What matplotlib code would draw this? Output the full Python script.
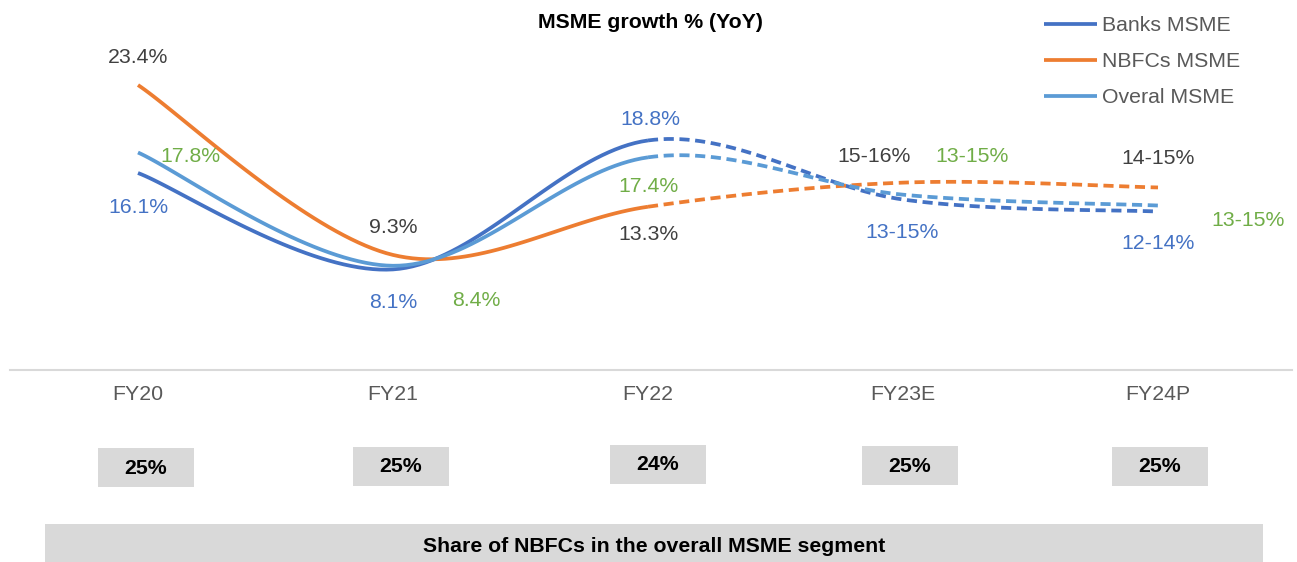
import numpy as np
import matplotlib
matplotlib.use("Agg")
import matplotlib.pyplot as plt
from matplotlib.patches import Rectangle

plt.rcParams["font.family"] = ["Liberation Sans", "DejaVu Sans"]

# data
categories = ["FY20", "FY21", "FY22", "FY23E", "FY24P"]
banks = [16.1, 8.1, 18.8, 13.9, 12.9]
nbfcs = [23.4, 9.3, 13.3, 15.3, 14.9]
overall = [17.8, 8.4, 17.4, 14.3, 13.4]
banks_labels = ["16.1%", "8.1%", "18.8%", "13-15%", "12-14%"]
nbfcs_labels = ["23.4%", "9.3%", "13.3%", "15-16%", "14-15%"]
overall_labels = ["17.8%", "8.4%", "17.4%", "13-15%", "13-15%"]
nbfc_share = ["25%", "25%", "24%", "25%", "25%"]

W, H = 1297, 562
X0, DX = 138, 255      # pixel of FY20 and spacing
Y0, DY = 367, 12.05    # pixel of 0% and pixels per point
FS = 15.3

c_banks = "#4472C4"
c_nbfc = "#ED7D31"
c_all = "#5B9BD5"


def smooth_segments(xs, ys, n=40):
    # Catmull-Rom style bezier, like Excel's smoothed line
    pts = np.column_stack([xs, ys]).astype(float)
    ext = np.vstack([pts[0], pts, pts[-1]])
    t = np.linspace(0, 1, n)[:, None]
    segs = []
    for i in range(len(pts) - 1):
        p0, p3 = pts[i], pts[i + 1]
        c1 = p0 + (ext[i + 2] - ext[i]) / 6
        c2 = p3 - (ext[i + 3] - ext[i + 1]) / 6
        b = ((1 - t) ** 3) * p0 + 3 * ((1 - t) ** 2) * t * c1 + 3 * (1 - t) * t ** 2 * c2 + t ** 3 * p3
        segs.append(b)
    return segs


fig = plt.figure(figsize=(W / 100, H / 100), dpi=100)
ax = fig.add_axes([0, 0, 1, 1])
ax.set_xlim(-X0 / DX, (W - X0) / DX)
ax.set_ylim((Y0 - H) / DY, Y0 / DY)
ax.axis("off")

x = np.arange(len(categories))
series = [
    ("Banks MSME", banks, c_banks),
    ("NBFCs MSME", nbfcs, c_nbfc),
    ("Overal MSME", overall, c_all),
]
for name, vals, col in series:
    segs = smooth_segments(x, vals)
    solid = np.vstack(segs[:2])
    dashed = np.vstack(segs[2:])
    ax.plot(solid[:, 0], solid[:, 1], color=col, lw=2.7, label=name,
            solid_capstyle="butt")
    ax.plot(dashed[:, 0], dashed[:, 1], color=col, lw=2.7, ls=(0, (2.7, 1.5)))

# data labels (offsets in pixels)
label_sets = [
    (banks, banks_labels, c_banks,
     [(0, -34), (0, -32), (2, 22), (-1, -32), (0, -31)]),
    (nbfcs, nbfcs_labels, "#404040",
     [(0, 29), (0, 28), (0, -27), (-29, 27), (0, 30)]),
    (overall, overall_labels, "#70AD47",
     [(52, -3), (83, -34), (0, -28), (69, 39), (90, -14)]),
]
for vals, labs, col, offs in label_sets:
    for i, (v, lab, off) in enumerate(zip(vals, labs, offs)):
        ax.annotate(lab, xy=(i, v), xytext=(off[0] * 0.72, (off[1] - 1) * 0.72),
                    textcoords="offset points", ha="center", va="center",
                    fontsize=FS, color=col)

# category axis line and labels
ax.plot([(10 - X0) / DX, (1292 - X0) / DX], [(Y0 - 370) / DY] * 2,
        color="#D9D9D9", lw=1.5, clip_on=False)
for i, cat in enumerate(categories):
    ax.text(i, (Y0 - 394) / DY, cat, ha="center", va="center",
            fontsize=FS, color="#595959")

ax.text((650 - X0) / DX, (Y0 - 23) / DY, "MSME growth % (YoY)", ha="center",
        va="center", fontsize=FS, fontweight="bold", color="black")

leg = ax.legend(loc="upper left", bbox_to_anchor=(1044 / W, 1 - 16 / H),
                bbox_transform=fig.transFigure, frameon=False, fontsize=FS,
                handlelength=2.5, handletextpad=0.24, labelspacing=0.8,
                borderpad=0, borderaxespad=0)
for t in leg.get_texts():
    t.set_color("#595959")

# share of NBFCs boxes
box_centers = [146, 401, 658, 910, 1160]
box_tops = [448, 447, 445, 446, 447]
for cx, top, s in zip(box_centers, box_tops, nbfc_share):
    fig.patches.append(Rectangle(((cx - 48) / W, 1 - (top + 39) / H), 96 / W, 39 / H,
                                 transform=fig.transFigure, facecolor="#D9D9D9",
                                 edgecolor="none", zorder=0))
    fig.text(cx / W, 1 - (top + 20) / H, s, ha="center", va="center",
             fontsize=FS, fontweight="bold", color="black")

fig.patches.append(Rectangle((45 / W, 0), (1263 - 45) / W, (H - 524) / H,
                             transform=fig.transFigure, facecolor="#D9D9D9",
                             edgecolor="none", zorder=0))
fig.text(654 / W, 1 - 546 / H, "Share of NBFCs in the overall MSME segment",
         ha="center", va="center", fontsize=FS, fontweight="bold", color="black")

fig.savefig("out.png", dpi=100)
